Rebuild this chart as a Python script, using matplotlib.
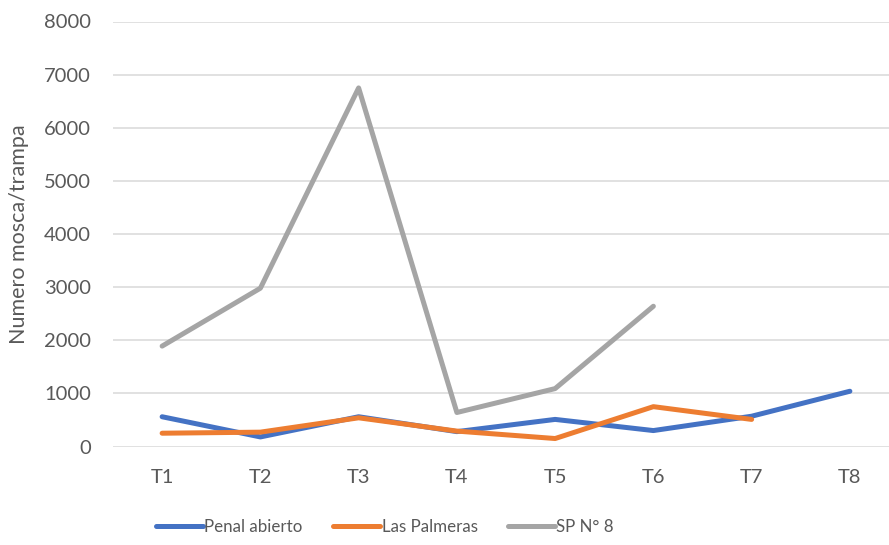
import numpy as np
import matplotlib
matplotlib.use("Agg")
import matplotlib.pyplot as plt

plt.rcParams['font.family'] = ['Lato', 'DejaVu Sans']

trampas = ["T1", "T2", "T3", "T4", "T5", "T6", "T7", "T8"]
penal_abierto = [560, 180, 560, 280, 510, 300, 570, 1040]
las_palmeras = [250, 270, 540, 290, 150, 750, 510]
sp_n8 = [1890, 2980, 6750, 640, 1090, 2640]

texto = "#595959"
grid_c = "#D9D9D9"

fig = plt.figure(figsize=(8.89, 5.45), dpi=100)
ax = fig.add_axes([113 / 889, 1 - 446.5 / 545, 786 / 889, 425 / 545])

x = np.arange(len(trampas))
estilo = dict(linewidth=3.6, solid_capstyle='round', solid_joinstyle='round')
ax.plot(x, penal_abierto, color="#4472C4", label="Penal abierto", zorder=3, **estilo)
ax.plot(x[:len(las_palmeras)], las_palmeras, color="#ED7D31", label="Las Palmeras", zorder=4, **estilo)
ax.plot(x[:len(sp_n8)], sp_n8, color="#A5A5A5", label="SP N° 8", zorder=2, **estilo)

ax.set_xlim(-0.5, len(trampas) - 0.5)
ax.set_ylim(0, 8000)
ax.set_yticks(np.arange(0, 8001, 1000))
ax.set_xticks(x)
ax.set_xticklabels(trampas)
ax.grid(axis='y', color=grid_c, linewidth=1.1, zorder=0)
ax.set_axisbelow(True)
for s in ax.spines.values():
    s.set_visible(False)
ax.tick_params(axis='y', length=0, pad=16, labelsize=14.5, labelcolor=texto)
ax.tick_params(axis='x', length=0, pad=16, labelsize=14.5, labelcolor=texto)

ax.set_ylabel("Numero mosca/trampa", fontsize=15.5, color=texto)
ax.yaxis.set_label_coords(-0.107, 0.5)

fig.legend(loc='center', bbox_to_anchor=(385 / 889, 1 - 527 / 545), ncol=3,
           frameon=False, fontsize=12.2, labelcolor=texto, handlelength=2.75,
           handletextpad=0.1, columnspacing=1.8)

fig.savefig("out.png", dpi=100)
